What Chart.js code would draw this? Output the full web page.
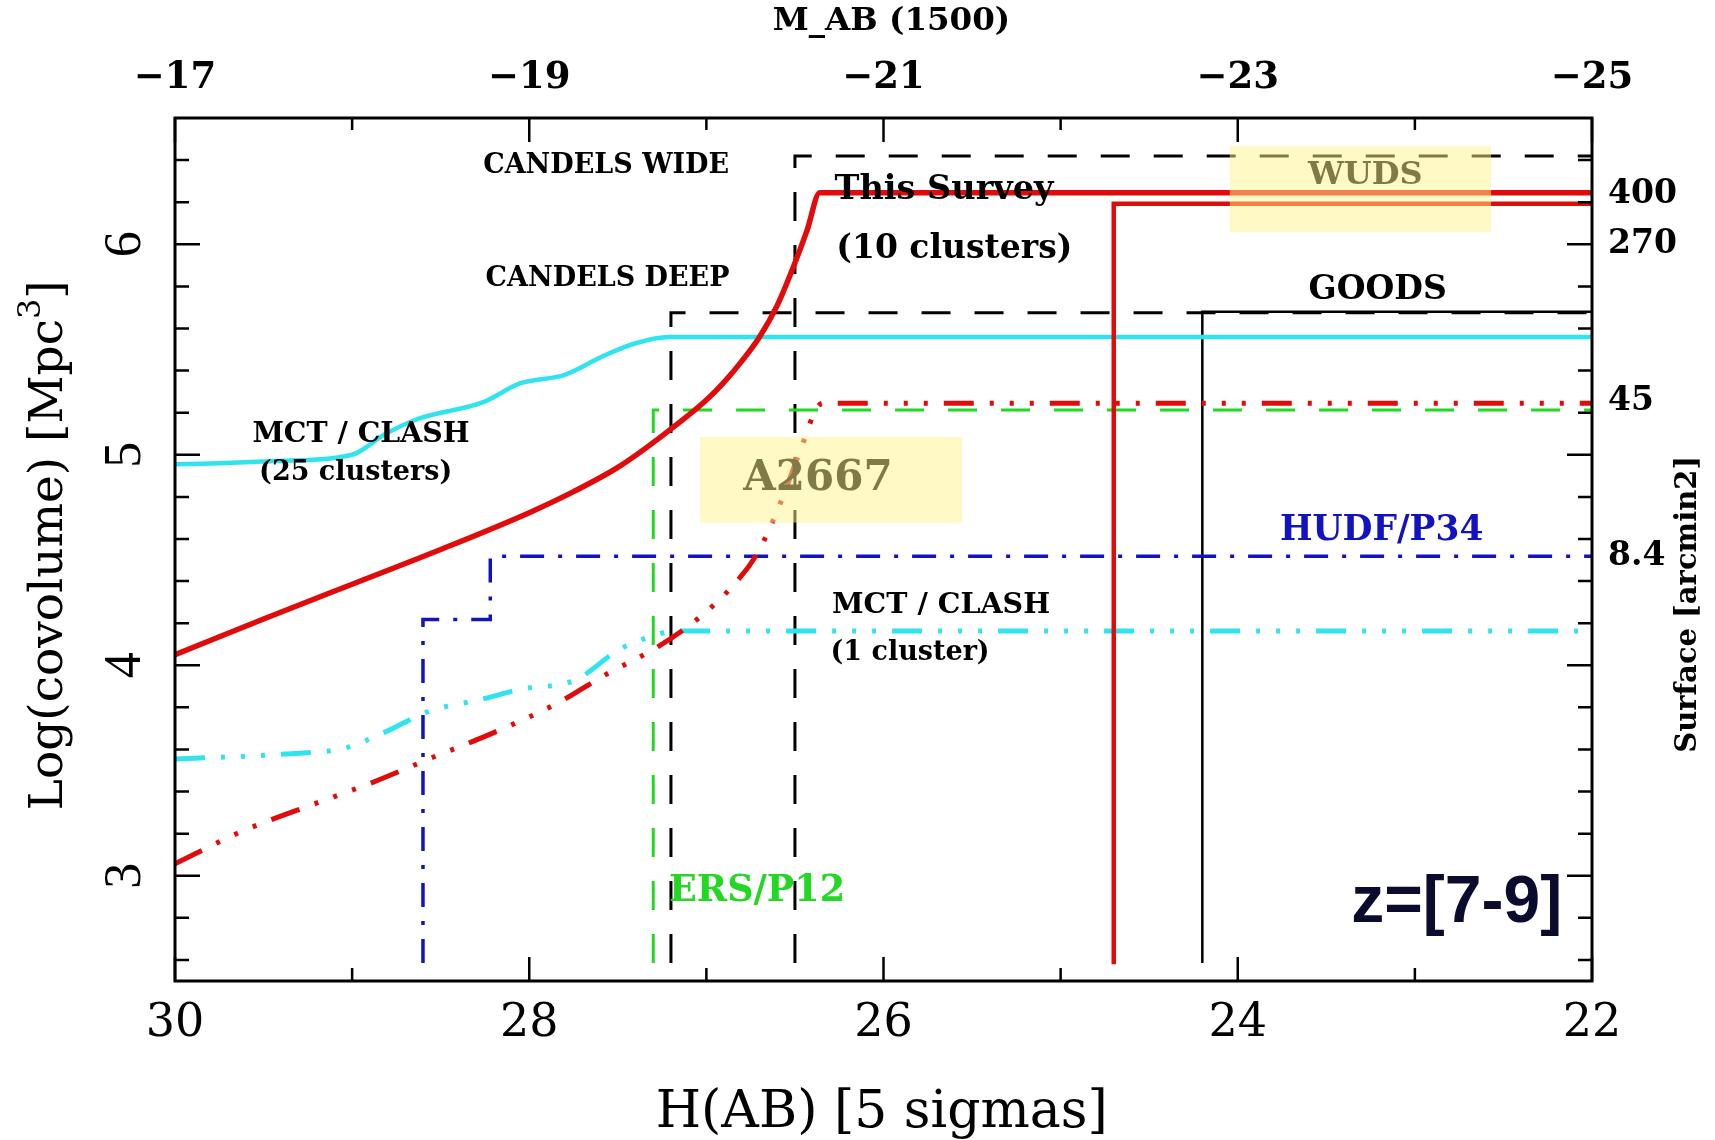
<!DOCTYPE html>
<html>
<head>
<meta charset="utf-8">
<title>Covolume vs H(AB) depth, z=[7-9]</title>
<script src="https://cdn.jsdelivr.net/npm/chart.js@4.4.1/dist/chart.umd.min.js"></script>
<style>
  html, body { margin: 0; padding: 0; background: #fff; }
</style>
</head>
<body>
<canvas id="myChart" width="1715" height="1140"></canvas>
<script>
// H(AB) depth (x) against log covolume (y)

// This Survey (10 clusters), solid red curve
const surveyH = [30, 29.5, 29, 28.5, 28, 27.75, 27.5, 27.25, 27.0, 26.9, 26.8, 26.7, 26.6, 26.51, 26.43, 26.36, 22];
const surveyV = [4.05, 4.22, 4.385, 4.55, 4.725, 4.825, 4.94, 5.09, 5.26, 5.345, 5.445, 5.56, 5.71, 5.89, 6.07, 6.245, 6.245];

// This Survey, second limit (red step)
const surveyStepH = [24.7, 24.7, 22];
const surveyStepV = [2.58, 6.193, 6.193];

// A2667, red dash-dot-dot
const a2667H = [30, 29.625, 29.25, 28.88, 28.54, 28.2, 27.83, 27.58, 27.27, 27.05, 26.87, 26.71, 26.59, 26.47, 26.37, 26.33, 22];
const a2667V = [3.057, 3.21, 3.33, 3.445, 3.564, 3.68, 3.825, 3.95, 4.09, 4.22, 4.36, 4.535, 4.755, 5.02, 5.23, 5.245, 5.245];

// MCT / CLASH (25 clusters), solid cyan
const clash25H = [30, 29.75, 29.44, 29.0, 28.82, 28.63, 28.26, 28.05, 27.8, 27.58, 27.4, 27.21, 22];
const clash25V = [4.955, 4.96, 4.97, 5.0, 5.095, 5.17, 5.25, 5.34, 5.38, 5.47, 5.53, 5.56, 5.56];

// MCT / CLASH (1 cluster), cyan dash-dot-dot
const clash1H = [30, 29.75, 29.38, 29.04, 28.82, 28.57, 28.26, 28.05, 27.74, 27.49, 27.3, 27.18, 22];
const clash1V = [3.555, 3.563, 3.578, 3.607, 3.68, 3.78, 3.84, 3.886, 3.93, 4.076, 4.14, 4.163, 4.163];

// surveys drawn as steps
const hudfH = [28.6, 28.6, 28.22, 28.22, 22];
const hudfV = [2.585, 4.218, 4.218, 4.518, 4.518];
const ersH = [27.3, 27.3, 22];
const ersV = [2.585, 5.213, 5.213];
const goodsH = [24.2, 24.2, 22];
const goodsV = [2.585, 5.68, 5.68];
const deepH = [27.2, 27.2, 22];
const deepV = [2.585, 5.675, 5.675];
const wideH = [26.5, 26.5, 22];
const wideV = [2.585, 6.42, 6.42];

// axes
const bottomTicks = [30, 28, 26, 24, 22];
const topTicks = [-17, -19, -21, -23, -25];
const leftTicks = [3, 4, 5, 6];
const surfaceTickValues = [6.235, 6.0, 5.255, 4.518];
const surfaceTickLabels = ['400', '270', '45', '8.4'];

const RED = '#e00c0c';
const CYAN = '#30e4ef';
const BLUE = '#1212c0';
const GREEN = '#22d822';
const SERIF = '"DejaVu Serif", serif';

const dashed = [29, 24];
const dashDot = [24, 14, 4, 14];
const dashDot3 = [30, 16, 4, 16, 4, 16, 4, 16];

function pts(hs, vs) {
    return hs.map((h, i) => ({ x: h, y: vs[i] }));
}

// text placed in data units
const notes = [
    { t: 'CANDELS WIDE', h: 27.566, v: 6.374, size: 27 },
    { t: 'CANDELS DEEP', h: 27.558, v: 5.834, size: 27 },
    { t: 'This Survey', h: 25.658, v: 6.256, size: 33.5 },
    { t: '(10 clusters)', h: 25.6, v: 5.976, size: 33 },
    { t: 'GOODS', h: 23.21, v: 5.782, size: 33 },
    { t: 'MCT / CLASH', h: 28.95, v: 5.095, size: 28.4 },
    { t: '(25 clusters)', h: 28.98, v: 4.915, size: 27 },
    { t: 'MCT / CLASH', h: 25.675, v: 4.284, size: 28.5 },
    { t: '(1 cluster)', h: 25.85, v: 4.057, size: 27 },
    { t: 'HUDF/P34', h: 23.187, v: 4.636, size: 34.5, color: BLUE },
    { t: 'ERS/P12', h: 26.714, v: 2.924, size: 36.5, color: GREEN },
    { t: 'A2667', h: 26.37, v: 4.886, size: 42 },
    { t: 'WUDS', h: 23.28, v: 6.325, size: 32 }
];
const boxes = [
    { h0: 27.036, h1: 25.556, v0: 4.678, v1: 5.085 },
    { h0: 24.045, h1: 22.57, v0: 6.058, v1: 6.466 }
];

function rotText(ctx, s, x, y, font) {
    ctx.save();
    ctx.translate(x, y);
    ctx.rotate(-Math.PI / 2);
    ctx.font = font;
    ctx.fillText(s, 0, 0);
    ctx.restore();
}

const pgFrame = {
    id: 'pgFrame',
    afterDatasetsDraw(chart) {
        const ctx = chart.ctx, a = chart.chartArea;
        const xs = chart.scales.x, x2 = chart.scales.x2, ys = chart.scales.y;
        ctx.save();

        // frame and inward ticks
        ctx.strokeStyle = '#000';
        ctx.lineWidth = 3;
        ctx.strokeRect(a.left, a.top, a.right - a.left, a.bottom - a.top);
        ctx.lineWidth = 2.5;
        ctx.beginPath();
        for (let h = 22; h <= 30; h++) {
            const px = xs.getPixelForValue(h);
            const len = h % 2 === 0 ? 24 : 13;
            ctx.moveTo(px, a.bottom); ctx.lineTo(px, a.bottom - len);
        }
        for (let m = -25; m <= -17; m++) {
            const px = x2.getPixelForValue(m);
            const len = Math.abs(m) % 2 === 1 ? 24 : 12;
            ctx.moveTo(px, a.top); ctx.lineTo(px, a.top + len);
        }
        for (let k = 13; k <= 32; k++) {
            const py = ys.getPixelForValue(k / 5);
            const len = k % 5 === 0 ? 25 : 14;
            ctx.moveTo(a.left, py); ctx.lineTo(a.left + len, py);
            ctx.moveTo(a.right, py); ctx.lineTo(a.right - len, py);
        }
        ctx.stroke();

        ctx.fillStyle = '#000';
        ctx.textAlign = 'center';
        ctx.textBaseline = 'middle';

        // tick labels
        ctx.font = '46px ' + SERIF;
        bottomTicks.forEach(h => ctx.fillText(String(h), xs.getPixelForValue(h), a.bottom + 43));
        ctx.font = 'bold 37px ' + SERIF;
        topTicks.forEach(m => ctx.fillText('\u2212' + Math.abs(m), x2.getPixelForValue(m), a.top - 40));
        leftTicks.forEach(v => rotText(ctx, String(v), a.left - 49, ys.getPixelForValue(v), '52px "Liberation Serif", serif'));
        ctx.textAlign = 'left';
        ctx.font = 'bold 33px ' + SERIF;
        surfaceTickValues.forEach((v, i) => ctx.fillText(surfaceTickLabels[i], a.right + 16, ys.getPixelForValue(v)));

        // axis titles
        ctx.textAlign = 'center';
        ctx.font = '52px ' + SERIF;
        ctx.fillText('H(AB) [5 sigmas]', xs.getPixelForValue(26.01), a.bottom + 132);
        ctx.font = 'bold 32.5px ' + SERIF;
        ctx.fillText('M_AB (1500)', x2.getPixelForValue(-21) + 8, a.top - 96);
        rotText(ctx, 'Surface [arcmin2]', a.right + 96, ys.getPixelForValue(4.29), 'bold 29px ' + SERIF);

        // left title with superscript
        ctx.save();
        ctx.translate(a.left - 125, ys.getPixelForValue(4.57));
        ctx.rotate(-Math.PI / 2);
        const main = 'Log(covolume) [Mpc', sup = '3', end = ']';
        const f1 = '47px ' + SERIF, f2 = '32px ' + SERIF;
        ctx.font = f1;
        const w1 = ctx.measureText(main).width, w3 = ctx.measureText(end).width;
        ctx.font = f2;
        const w2 = ctx.measureText(sup).width;
        const x0 = -(w1 + w2 + w3) / 2;
        ctx.textAlign = 'left';
        ctx.font = f1; ctx.fillText(main, x0, 0);
        ctx.font = f2; ctx.fillText(sup, x0 + w1, -18);
        ctx.font = f1; ctx.fillText(end, x0 + w1 + w2, 0);
        ctx.restore();

        // annotations
        ctx.textAlign = 'center';
        notes.forEach(n => {
            ctx.font = 'bold ' + n.size + 'px ' + SERIF;
            ctx.fillStyle = n.color || '#000';
            ctx.fillText(n.t, xs.getPixelForValue(n.h), ys.getPixelForValue(n.v));
        });

        // translucent yellow boxes over lines and text
        ctx.fillStyle = 'rgba(255, 245, 140, 0.5)';
        boxes.forEach(b => {
            const l = xs.getPixelForValue(b.h0), r = xs.getPixelForValue(b.h1);
            const t = ys.getPixelForValue(b.v1), btm = ys.getPixelForValue(b.v0);
            ctx.fillRect(l, t, r - l, btm - t);
        });

        ctx.fillStyle = '#0b0b2e';
        ctx.font = 'bold 66px "Liberation Sans", sans-serif';
        ctx.fillText('z=[7-9]', xs.getPixelForValue(22.764), ys.getPixelForValue(2.867));
        ctx.restore();
    }
};

const ctx = document.getElementById('myChart').getContext('2d');
const myChart = new Chart(ctx, {
    type: 'scatter',
    data: {
        datasets: [
            { label: 'This Survey', data: pts(surveyH, surveyV), borderColor: RED, borderWidth: 5.5, cubicInterpolationMode: 'monotone' },
            { label: 'This Survey (limit)', data: pts(surveyStepH, surveyStepV), borderColor: RED, borderWidth: 4.5 },
            { label: 'A2667', data: pts(a2667H, a2667V), borderColor: RED, borderWidth: 5, borderDash: dashDot3, cubicInterpolationMode: 'monotone' },
            { label: 'MCT / CLASH (25 clusters)', data: pts(clash25H, clash25V), borderColor: CYAN, borderWidth: 4.5, cubicInterpolationMode: 'monotone' },
            { label: 'MCT / CLASH (1 cluster)', data: pts(clash1H, clash1V), borderColor: CYAN, borderWidth: 5, borderDash: dashDot3, cubicInterpolationMode: 'monotone' },
            { label: 'HUDF/P34', data: pts(hudfH, hudfV), borderColor: BLUE, borderWidth: 3.5, borderDash: dashDot },
            { label: 'ERS/P12', data: pts(ersH, ersV), borderColor: GREEN, borderWidth: 3, borderDash: dashed },
            { label: 'GOODS', data: pts(goodsH, goodsV), borderColor: '#000', borderWidth: 2.5 },
            { label: 'CANDELS DEEP', data: pts(deepH, deepV), borderColor: '#000', borderWidth: 3, borderDash: dashed },
            { label: 'CANDELS WIDE', data: pts(wideH, wideV), borderColor: '#000', borderWidth: 3, borderDash: dashed }
        ].map(d => Object.assign({ showLine: true, pointRadius: 0, pointHoverRadius: 0, fill: false, tension: 0 }, d))
    },
    options: {
        responsive: false,
        animation: false,
        events: [],
        layout: { padding: { left: 175, top: 118, right: 123, bottom: 159 } },
        plugins: { legend: { display: false }, tooltip: { enabled: false } },
        scales: {
            x: { type: 'linear', min: 22, max: 30, reverse: true, display: false },
            x2: { type: 'linear', position: 'top', min: -25, max: -17, reverse: true, display: false },
            y: { type: 'linear', min: 2.5, max: 6.6, display: false }
        }
    },
    plugins: [pgFrame]
});
</script>
</body>
</html>
